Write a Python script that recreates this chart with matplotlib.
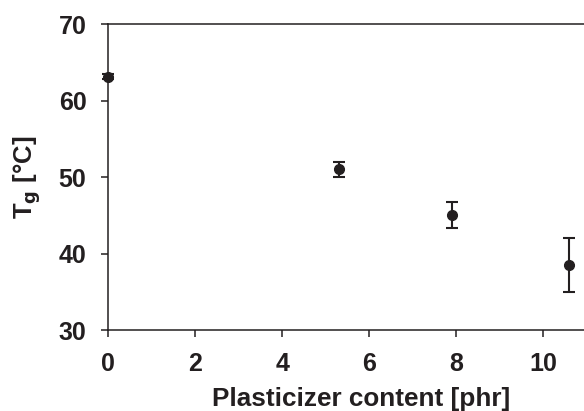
import matplotlib

matplotlib.use("Agg")
import matplotlib.pyplot as plt

INK = "#231f20"

plasticizer = [0.0, 5.3, 7.9, 10.6]
tg = [63.15, 51.0, 45.0, 38.5]
tg_err = [0.3, 1.0, 1.7, 3.55]
x_ticks = [0, 2, 4, 6, 8, 10]
y_ticks = [30, 40, 50, 60, 70]

plt.rcParams.update({"font.family": ["Liberation Sans", "DejaVu Sans"], "font.weight": "bold"})
fig = plt.figure(figsize=(5.84, 4.11), dpi=100, facecolor="white")
ax = fig.add_axes([0.185, 0.197, 0.815, 0.744])

ax.errorbar(plasticizer, tg, yerr=tg_err, fmt="o", color=INK, markersize=7,
            elinewidth=1.5, capsize=4.5, capthick=1.5, clip_on=False, zorder=3)

ax.set_xlim(0, 10.94)
ax.set_ylim(30, 70)
ax.set_xticks(x_ticks)
ax.set_yticks(y_ticks)
ax.tick_params(direction="out", length=5, width=1.1, colors=INK, labelsize=18, pad=10.5)
for label in ax.get_xticklabels() + ax.get_yticklabels():
    label.set_fontweight("bold")

ax.spines["right"].set_visible(False)
for side in ("left", "bottom", "top"):
    ax.spines[side].set_color(INK)
    ax.spines[side].set_linewidth(1.1)

ax.set_xlabel("Plasticizer content [phr]", fontsize=18.8, fontweight="bold", color=INK)
ax.xaxis.set_label_coords(0.531, -0.186)
ax.set_ylabel(r"T$_\mathbf{g}$ [°C]", fontsize=18.5, fontweight="bold", color=INK, labelpad=11)

fig.savefig("out.png", dpi=100, facecolor="white")
